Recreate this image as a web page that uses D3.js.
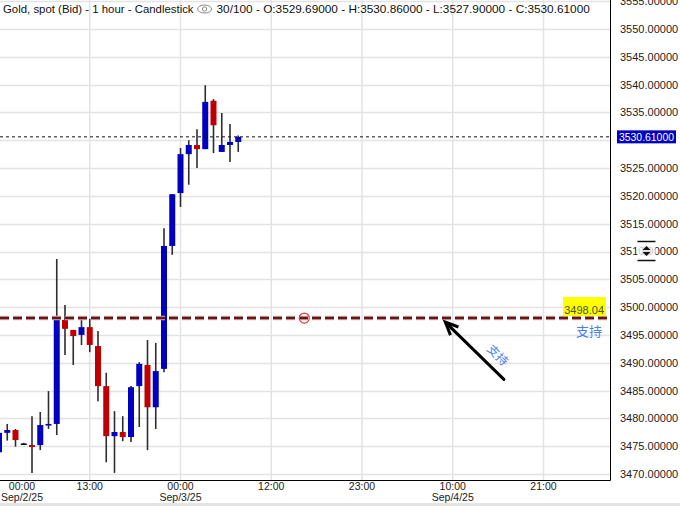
<!DOCTYPE html>
<html><head><meta charset="utf-8">
<script src="https://cdn.jsdelivr.net/npm/d3@7/dist/d3.min.js"></script>
<style>html,body{margin:0;padding:0;background:#fff;overflow:hidden}svg{display:block;font-family:"Liberation Sans",Arial,sans-serif}</style>
</head><body>
<svg id="c" width="680" height="506"></svg>
<script>
// ---- data ----
const opens  = [3473.9,3477.4,3477.9,3475.5,3475.2,3475.2,3478.9,3479.0,3497.7,3495.9,3495.0,3496.4,3493.0,3485.8,3476.8,3477.55,3476.65,3485.8,3489.6,3482.0,3488.9,3511.0,3520.5,3527.5,3529.15,3528.4,3537.1,3527.9,3529.15,3529.69];
const highs  = [3477.8,3479.0,3478.1,3475.6,3480.4,3481.15,3484.9,3508.65,3500.4,3495.9,3498.4,3497.9,3495.7,3488.2,3481.3,3480.4,3485.8,3490.1,3494.1,3493.55,3514.2,3520.3,3528.6,3530.0,3532.0,3539.9,3537.4,3534.9,3532.9,3530.86];
const lows   = [3473.0,3476.0,3474.9,3475.4,3470.2,3474.3,3478.1,3477.0,3491.4,3489.6,3493.2,3491.9,3483.1,3472.1,3470.2,3475.9,3475.75,3478.45,3474.3,3478.1,3488.3,3509.4,3518.0,3522.0,3525.0,3528.4,3527.7,3527.9,3526.1,3527.9];
const closes = [3477.4,3477.9,3476.1,3475.5,3474.85,3478.8,3479.0,3497.7,3496.1,3494.8,3496.4,3493.2,3485.8,3476.8,3477.55,3476.65,3485.6,3489.8,3482.0,3488.5,3511.0,3520.3,3527.5,3529.15,3528.4,3536.9,3532.7,3529.15,3529.7,3530.61];
const priceTicks = [3470,3475,3480,3485,3490,3495,3500,3505,3510,3515,3520,3525,3530,3535,3540,3545,3550,3555];
const timeTickIdx   = [-2,11,22,33,44,55,66];
const timeTickTime  = ["00:00","13:00","00:00","12:00","23:00","10:00","21:00"];
const timeTickDate  = ["Sep/2/25","","Sep/3/25","","","Sep/4/25",""];
const lastPrice = 3530.61;
const supportPrice = 3498.04;
const supportLabel = "支持";
const circleIdx = 37;
const arrowFrom = {i: 61.2, v: 3487.0};
const arrowTo   = {i: 54.1, v: 3497.3};
const title1 = "Gold, spot (Bid) - 1 hour - Candlestick";
const title2 = "30/100 - O:3529.69000 - H:3530.86000 - L:3527.90000 - C:3530.61000";

// ---- chart ----
const svg = d3.select("#c");
const W = 680, H = 506, plotR = 610, plotB = 480;
const x = d3.scaleLinear().domain([0, 74]).range([-1, -1 + 8.25 * 74]);
const y = d3.scaleLinear().domain([3470, 3550]).range([474, 29]);
const BLUE = "#0000c0", RED = "#c00000";

svg.append("rect").attr("width", W).attr("height", H).attr("fill", "#fff");
svg.append("rect").attr("x", 0).attr("y", 503).attr("width", W).attr("height", 3).attr("fill", "#e4e4e4");

const plot = svg.append("g");
plot.append("defs").append("clipPath").attr("id", "pc").append("rect").attr("x", 0).attr("y", 0).attr("width", plotR).attr("height", plotB);
const pg = plot.append("g").attr("clip-path", "url(#pc)");

// gridlines
pg.selectAll("line.hg").data(priceTicks).join("line")
  .attr("x1", 0).attr("x2", plotR).attr("y1", d => Math.round(y(d)) + 0.5).attr("y2", d => Math.round(y(d)) + 0.5)
  .attr("stroke", "#e3e3e3").attr("stroke-width", 1.5);
pg.selectAll("line.vg").data(timeTickIdx.filter(i => i >= 0)).join("line")
  .attr("x1", d => x(d)).attr("x2", d => x(d)).attr("y1", 0).attr("y2", plotB)
  .attr("stroke", "#e3e3e3").attr("stroke-width", 1.5);

// candles
const idx = d3.range(opens.length);
pg.selectAll("line.wick").data(idx).join("line")
  .attr("x1", i => x(i)).attr("x2", i => x(i))
  .attr("y1", i => y(highs[i])).attr("y2", i => y(lows[i]))
  .attr("stroke", "#2a2f33").attr("stroke-width", 1.6);
pg.selectAll("rect.body").data(idx).join("rect")
  .attr("x", i => x(i) - 3).attr("width", 6)
  .attr("y", i => y(Math.max(opens[i], closes[i])))
  .attr("height", i => Math.max(1.6, Math.abs(y(opens[i]) - y(closes[i]))))
  .attr("fill", i => closes[i] > opens[i] ? BLUE : (closes[i] < opens[i] ? RED : "#111"));

// current price dotted line
pg.append("line").attr("x1", 0).attr("x2", plotR).attr("y1", y(lastPrice)).attr("y2", y(lastPrice))
  .attr("stroke", "#111").attr("stroke-width", 1).attr("stroke-dasharray", "3,3");

// support line
pg.append("line").attr("x1", 0).attr("x2", plotR).attr("y1", y(supportPrice)).attr("y2", y(supportPrice))
  .attr("stroke", "#c9b9b9").attr("stroke-width", 4.5).attr("stroke-dasharray", "9,4");
pg.append("line").attr("x1", 0).attr("x2", plotR).attr("y1", y(supportPrice)).attr("y2", y(supportPrice))
  .attr("stroke", "#6e1212").attr("stroke-width", 2.6).attr("stroke-dasharray", "9,4");
pg.append("circle").attr("cx", x(circleIdx)).attr("cy", y(supportPrice)).attr("r", 5)
  .attr("fill", "none").attr("stroke", "#e8383c").attr("stroke-width", 1.2);

// support price label
const sy = y(supportPrice);
pg.append("rect").attr("x", 563).attr("y", sy - 21).attr("width", 43).attr("height", 19).attr("fill", "#ffff00");
pg.append("text").attr("x", 604).attr("y", sy - 4).attr("text-anchor", "end").attr("font-size", 11)
  .attr("fill", "#4a5218").text(supportPrice.toFixed(2));
pg.append("text").attr("x", 589).attr("y", sy + 18).attr("text-anchor", "middle").attr("font-size", 13)
  .attr("font-family", "'Noto Sans CJK SC',sans-serif").attr("fill", "#4a7ff0").text(supportLabel);

// arrow
const ax1 = x(arrowFrom.i), ay1 = y(arrowFrom.v), ax2 = x(arrowTo.i), ay2 = y(arrowTo.v);
pg.append("line").attr("x1", ax1).attr("y1", ay1).attr("x2", ax2 + 2).attr("y2", ay2 + 2)
  .attr("stroke", "#000").attr("stroke-width", 3).attr("stroke-linecap", "round");
const ang = Math.atan2(ay1 - ay2, ax1 - ax2);
const hl = 14, ha = 0.42;
pg.append("path")
  .attr("d", `M${ax2 + hl * Math.cos(ang - ha)},${ay2 + hl * Math.sin(ang - ha)}L${ax2},${ay2}L${ax2 + hl * Math.cos(ang + ha)},${ay2 + hl * Math.sin(ang + ha)}`)
  .attr("fill", "none").attr("stroke", "#000").attr("stroke-width", 3).attr("stroke-linejoin", "miter");
const tt = 0.74, off = 13;
const mx = ax2 + (ax1 - ax2) * tt + off * Math.sin(ang), my = ay2 + (ay1 - ay2) * tt - off * Math.cos(ang);
pg.append("text").attr("transform", `translate(${mx},${my}) rotate(${ang * 180 / Math.PI})`)
  .attr("text-anchor", "middle").attr("dy", "0.35em").attr("font-size", 12)
  .attr("font-family", "'Noto Sans CJK SC',sans-serif").attr("fill", "#4a7ff0").text(supportLabel);

// axes lines
svg.append("line").attr("x1", plotR + 0.5).attr("x2", plotR + 0.5).attr("y1", 0).attr("y2", plotB + 0.5).attr("stroke", "#000");
svg.append("line").attr("x1", 0).attr("x2", plotR + 0.5).attr("y1", plotB + 0.5).attr("y2", plotB + 0.5).attr("stroke", "#000");

// price axis labels (the one hidden behind the last-price box is skipped)
svg.selectAll("text.pl").data(priceTicks.filter(d => Math.abs(y(d) - y(lastPrice)) > 8)).join("text")
  .attr("x", 620).attr("y", d => y(d)).attr("dy", "0.36em").attr("font-size", 11).attr("fill", "#222")
  .text(d => d.toFixed(5));

// last price box
svg.append("rect").attr("x", 617).attr("y", y(lastPrice) - 6.5).attr("width", 59).attr("height", 13).attr("fill", BLUE);
svg.append("text").attr("x", 619).attr("y", y(lastPrice)).attr("dy", "0.36em").attr("font-size", 11)
  .attr("textLength", 55).attr("lengthAdjust", "spacingAndGlyphs")
  .attr("fill", "#fff").text(lastPrice.toFixed(5));

// scroll icon
const icx = 646.5, icy = y(3510) - 0.5;
svg.append("rect").attr("x", icx - 9).attr("y", icy - 7).attr("width", 18).attr("height", 14).attr("fill", "#fff").attr("opacity", 0.75);
svg.append("line").attr("x1", icx - 9).attr("x2", icx + 9).attr("y1", icy - 9.5).attr("y2", icy - 9.5).attr("stroke", "#111").attr("stroke-width", 1.5);
svg.append("line").attr("x1", icx - 9).attr("x2", icx + 9).attr("y1", icy + 9.5).attr("y2", icy + 9.5).attr("stroke", "#111").attr("stroke-width", 1.5);
svg.append("circle").attr("cx", icx).attr("cy", icy).attr("r", 5).attr("fill", "#ddd").attr("opacity", 0.8);
svg.append("path").attr("d", `M${icx - 4},${icy - 1}L${icx},${icy - 5}L${icx + 4},${icy - 1}Z M${icx - 4},${icy + 1}L${icx},${icy + 5}L${icx + 4},${icy + 1}Z`).attr("fill", "#111");

// time axis labels
timeTickIdx.forEach((ti, k) => {
  const tx = Math.max(x(ti), 22);
  svg.append("text").attr("x", tx).attr("y", 490).attr("text-anchor", "middle").attr("font-size", 10.5)
    .attr("fill", "#222").text(timeTickTime[k]);
  if (timeTickDate[k]) svg.append("text").attr("x", tx).attr("y", 501).attr("text-anchor", "middle")
    .attr("font-size", 10.5).attr("fill", "#222").text(timeTickDate[k]);
});

// header
const h1 = svg.append("text").attr("x", 3).attr("y", 13).attr("font-size", 11.4).attr("fill", "#111").text(title1);
const t1w = h1.node().getComputedTextLength();
const ex = 3 + t1w + 11;
svg.append("ellipse").attr("cx", ex).attr("cy", 9).attr("rx", 7).attr("ry", 4).attr("fill", "none").attr("stroke", "#888").attr("stroke-width", 1);
svg.append("circle").attr("cx", ex).attr("cy", 9).attr("r", 2.2).attr("fill", "none").attr("stroke", "#888").attr("stroke-width", 1);
svg.append("text").attr("x", ex + 12).attr("y", 13).attr("font-size", 11.8).attr("fill", "#111").text(title2);
</script>
</body></html>
